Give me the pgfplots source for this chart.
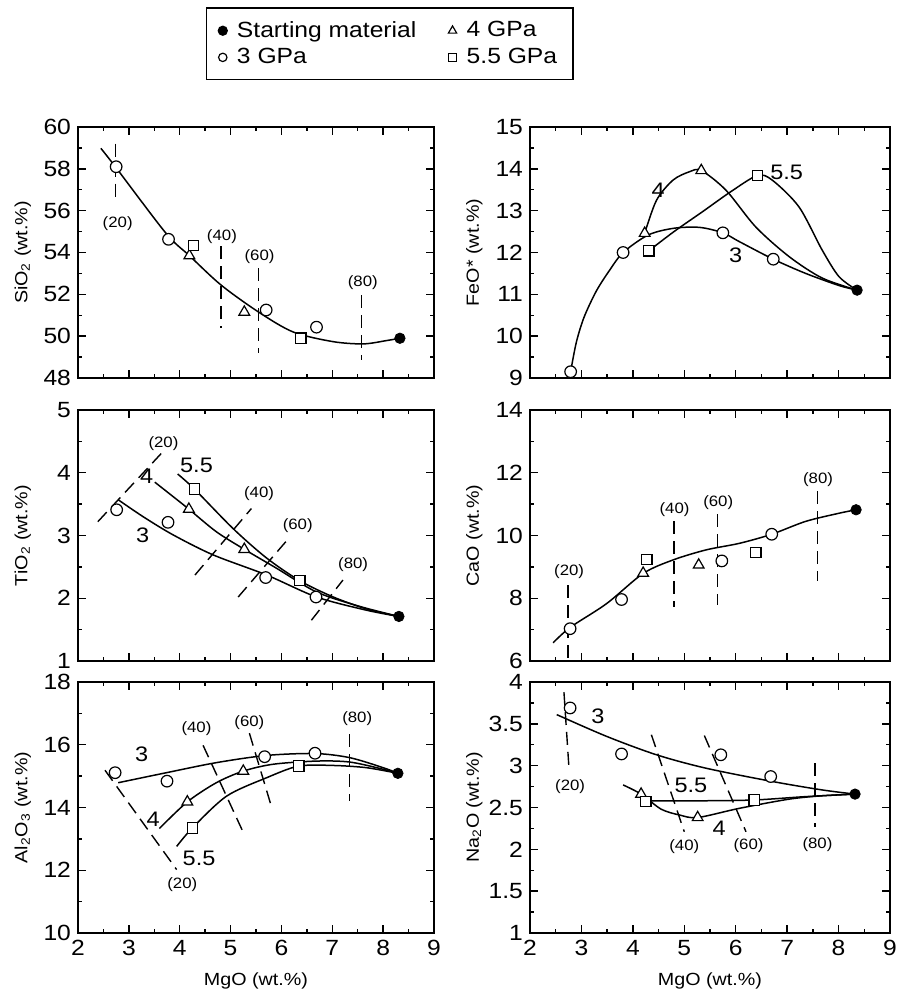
\documentclass[border=0pt]{standalone}
\usepackage{fontspec}
\setmainfont[FakeStretch=1.12]{Liberation Sans}
\usepackage{pgfplots}
\pgfplotsset{compat=1.18}
\pgfplotsset{
  panel/.style={scale only axis, height=125.5pt, xmin=2, xmax=9, xtick={2,...,9},
    minor x tick num=1, minor y tick num=1, tick align=inside,
    major tick length=4pt, minor tick length=2.2pt,
    every tick/.style={black, line width=0.7pt},
    axis line style={line width=0.9pt},
    /pgf/number format/assume math mode=true,
    tick label style={font=\fontsize{11}{12}\selectfont},
    label style={font=\fontsize{8.8}{11}\selectfont},
    ylabel style={at={(axis description cs:-0.155,0.5)}, anchor=center},
    xlabel style={at={(axis description cs:0.5,-0.19)}, anchor=center},
    clip=false},
  lpanel/.style={panel, width=178pt},
  rpanel/.style={panel, width=180pt},
  curve/.style={smooth, black, line width=0.75pt, no markers},
  guide/.style={black, line width=0.7pt, dash pattern=on 6.5pt off 3.5pt, no markers},
  s3/.style={only marks, mark=*, mark size=2.9pt, mark options={fill=white, draw=black, line width=0.6pt, solid}},
  s4/.style={only marks, mark=triangle*, mark size=3.1pt, mark options={fill=white, draw=black, line width=0.6pt, solid}},
  s55/.style={only marks, mark=square*, mark size=2.6pt, mark options={fill=white, draw=black, line width=0.6pt, solid}},
  s0/.style={only marks, mark=*, mark size=2.6pt, mark options={fill=black, draw=black, solid}},
  legmark/.style={only marks, legend image code/.code={\draw[##1] plot coordinates {(0pt,0pt)};}},
}
\tikzset{lab/.style={font=\fontsize{7.5}{9}\selectfont, inner sep=0pt},
  clab/.style={font=\fontsize{10.5}{12}\selectfont, inner sep=0pt}}
\begin{document}
\begin{tikzpicture}
\path[use as bounding box] (0,0) rectangle (448pt,497.5pt);
% SiO2
\begin{axis}[lpanel, at={(39pt,308.5pt)}, anchor=south west, ymin=48, ymax=60, ytick={48,50,...,60},
  xticklabels={}, ylabel={SiO\textsubscript{2} (wt.\%)},
  legend style={at={(axis description cs:0.876,1.331)}, anchor=center, draw=black, line width=0.9pt,
    font=\fontsize{11}{13.5}\selectfont, legend columns=2, legend cell align=left,
    inner xsep=6pt, inner ysep=4.5pt,
    /tikz/every odd column/.append style={column sep=3pt},
    /tikz/every even column/.append style={column sep=14pt}}]
\addlegendimage{legmark, mark=*, mark size=2.1pt, mark options={fill=black}}
\addlegendentry{Starting material}
\addlegendimage{legmark, mark=triangle, mark size=2.4pt, mark options={line width=0.6pt}}
\addlegendentry{4 GPa}
\addlegendimage{legmark, mark=o, mark size=2.1pt, mark options={line width=0.6pt}}
\addlegendentry{3 GPa}
\addlegendimage{legmark, mark=square, mark size=2pt, mark options={line width=0.6pt}}
\addlegendentry{5.5 GPa\hspace{11pt}}
\addplot[guide] coordinates {(2.74,59.2)(2.74,56.4)};
\addplot[guide] coordinates {(4.81,54.3)(4.81,50.4)};
\addplot[guide] coordinates {(5.55,53.25)(5.55,49.2)};
\addplot[guide] coordinates {(7.57,51.95)(7.57,48.85)};
\addplot[curve] coordinates {(2.45,58.98)(2.75,58.05)(3.73,54.92)(4.19,53.85)(4.81,52.45)(5.54,51.17)(6.23,50.2)(7.01,49.74)(7.61,49.63)(8.07,49.79)(8.33,49.9)};
\addplot[s3] coordinates {(2.75,58.1)(3.78,54.63)(5.70,51.25)(6.69,50.43)};
\addplot[s4] coordinates {(4.19,53.85)(5.27,51.15)};
\addplot[s55] coordinates {(4.27,54.33)(6.38,49.9)};
\addplot[s0] coordinates {(8.33,49.9)};
\node[lab] at (axis cs:2.78,55.4) {(20)};
\node[lab] at (axis cs:4.83,54.76) {(40)};
\node[lab] at (axis cs:5.57,53.8) {(60)};
\node[lab] at (axis cs:7.6,52.56) {(80)};
\end{axis}
% FeO
\begin{axis}[rpanel, at={(265pt,308.5pt)}, anchor=south west, ymin=9, ymax=15, ytick={9,...,15},
  xticklabels={}, ylabel={FeO* (wt.\%)}]
\addplot[curve] coordinates {(2.79,9.15)(2.9,9.85)(3.05,10.45)(3.29,11.08)(3.55,11.58)(3.81,12.0)(4.3,12.42)(4.8,12.58)(5.3,12.6)(5.75,12.47)(6.07,12.26)(6.73,11.84)(7.36,11.5)(8.01,11.21)(8.36,11.1)};
\addplot[curve] coordinates {(4.23,12.46)(4.46,13.25)(4.78,13.73)(5.1,13.93)(5.33,13.96)(5.81,13.49)(6.39,12.61)(7.04,11.90)(7.68,11.39)(8.36,11.1)};
\addplot[curve] coordinates {(4.31,12.04)(4.8,12.5)(5.36,12.98)(5.9,13.45)(6.42,13.84)(6.71,13.73)(7.23,13.09)(7.68,12.06)(8.01,11.42)(8.36,11.1)};
\addplot[s3] coordinates {(2.79,9.15)(3.81,12.0)(5.75,12.47)(6.73,11.84)};
\addplot[s4] coordinates {(4.23,12.46)(5.33,13.96)};
\addplot[s55] coordinates {(4.31,12.04)(6.42,13.84)};
\addplot[s0] coordinates {(8.36,11.1)};
\node[clab] at (axis cs:4.49,13.49) {4};
\node[clab] at (axis cs:6.99,13.91) {5.5};
\node[clab] at (axis cs:6.0,11.94) {3};
\end{axis}
% TiO2
\begin{axis}[lpanel, at={(39pt,167pt)}, anchor=south west, ymin=1, ymax=5, ytick={1,...,5},
  xticklabels={}, ylabel={TiO\textsubscript{2} (wt.\%)}]
\addplot[guide] coordinates {(2.39,3.22)(3.64,4.31)};
\addplot[guide] coordinates {(4.30,2.37)(5.41,3.43)};
\addplot[guide] coordinates {(5.15,2.02)(6.17,2.98)};
\addplot[guide] coordinates {(6.59,1.65)(7.21,2.29)};
\addplot[curve] coordinates {(2.79,3.57)(3.28,3.30)(3.87,3.01)(4.66,2.69)(5.71,2.37)(6.69,2.02)(7.67,1.81)(8.31,1.71)};
\addplot[curve] coordinates {(3.51,3.85)(3.87,3.62)(4.18,3.42)(4.72,3.06)(5.27,2.78)(5.90,2.48)(6.69,2.10)(7.54,1.87)(8.31,1.71)};
\addplot[curve] coordinates {(3.96,3.98)(4.29,3.74)(5.05,3.11)(5.71,2.64)(6.36,2.28)(7.02,2.02)(7.67,1.83)(8.31,1.71)};
\addplot[s3] coordinates {(2.76,3.41)(3.77,3.21)(5.69,2.33)(6.68,2.02)};
\addplot[s4] coordinates {(4.18,3.42)(5.27,2.78)};
\addplot[s55] coordinates {(4.29,3.74)(6.36,2.28)};
\addplot[s0] coordinates {(8.31,1.71)};
\node[lab] at (axis cs:3.68,4.46) {(20)};
\node[lab] at (axis cs:5.56,3.67) {(40)};
\node[lab] at (axis cs:6.32,3.15) {(60)};
\node[lab] at (axis cs:7.41,2.53) {(80)};
\node[clab] at (axis cs:3.27,3.01) {3};
\node[clab] at (axis cs:3.35,3.94) {4};
\node[clab] at (axis cs:4.33,4.11) {5.5};
\end{axis}
% CaO
\begin{axis}[rpanel, at={(265pt,167pt)}, anchor=south west, ymin=6, ymax=14, ytick={6,8,...,14},
  xticklabels={}, ylabel={CaO (wt.\%)}]
\addplot[guide] coordinates {(2.74,8.42)(2.74,6.05)};
\addplot[guide] coordinates {(4.80,10.45)(4.80,7.73)};
\addplot[guide] coordinates {(5.65,10.68)(5.65,7.78)};
\addplot[guide] coordinates {(7.59,11.41)(7.59,8.55)};
\addplot[curve] coordinates {(2.45,6.58)(2.78,7.07)(3.49,7.83)(4.20,8.79)(4.78,9.22)(5.42,9.54)(6.07,9.75)(6.70,10.04)(7.36,10.45)(8.01,10.71)(8.34,10.82)};
\addplot[s3] coordinates {(2.78,7.03)(3.78,7.96)(5.73,9.19)(6.70,10.04)};
\addplot[s4] coordinates {(4.20,8.8)(5.28,9.06)};
\addplot[s55] coordinates {(4.27,9.24)(6.39,9.46)};
\addplot[s0] coordinates {(8.34,10.82)};
\node[lab] at (axis cs:2.76,8.85) {(20)};
\node[lab] at (axis cs:4.81,10.82) {(40)};
\node[lab] at (axis cs:5.66,11.06) {(60)};
\node[lab] at (axis cs:7.6,11.78) {(80)};
\end{axis}
% Al2O3
\begin{axis}[lpanel, at={(39pt,31pt)}, anchor=south west, ymin=10, ymax=18, ytick={10,12,...,18},
  xlabel={MgO (wt.\%)}, ylabel={Al\textsubscript{2}O\textsubscript{3} (wt.\%)}]
\addplot[guide] coordinates {(2.53,15.19)(3.94,12.02)};
\addplot[guide] coordinates {(4.46,15.98)(5.24,13.24)};
\addplot[guide] coordinates {(5.37,16.37)(5.82,13.94)};
\addplot[guide] coordinates {(7.34,16.34)(7.34,14.2)};
\addplot[curve] coordinates {(2.79,14.79)(3.74,15.11)(4.72,15.43)(5.71,15.66)(6.66,15.72)(7.34,15.59)(8.0,15.27)(8.29,15.09)};
\addplot[curve] coordinates {(3.60,13.33)(4.15,14.18)(4.72,14.79)(5.25,15.16)(5.84,15.38)(6.69,15.48)(7.34,15.45)(8.0,15.22)(8.29,15.09)};
\addplot[curve] coordinates {(3.94,12.76)(4.25,13.35)(4.92,14.36)(5.71,14.95)(6.34,15.32)(7.02,15.34)(7.67,15.27)(8.29,15.09)};
\addplot[s3] coordinates {(2.73,15.11)(3.75,14.84)(5.67,15.62)(6.66,15.73)};
\addplot[s4] coordinates {(4.15,14.18)(5.25,15.16)};
\addplot[s55] coordinates {(4.25,13.35)(6.34,15.32)};
\addplot[s0] coordinates {(8.29,15.09)};
\node[lab] at (axis cs:4.05,11.54) {(20)};
\node[lab] at (axis cs:4.33,16.5) {(40)};
\node[lab] at (axis cs:5.37,16.71) {(60)};
\node[lab] at (axis cs:7.49,16.82) {(80)};
\node[clab] at (axis cs:3.25,15.7) {3};
\node[clab] at (axis cs:3.48,13.64) {4};
\node[clab] at (axis cs:4.38,12.39) {5.5};
\end{axis}
% Na2O
\begin{axis}[rpanel, at={(265pt,31pt)}, anchor=south west, ymin=1, ymax=4, ytick={1,1.5,...,4},
  xlabel={MgO (wt.\%)}, ylabel={Na\textsubscript{2}O (wt.\%)}]
\addplot[guide] coordinates {(2.66,3.88)(2.76,2.95)};
\addplot[guide] coordinates {(4.36,3.37)(5.0,2.21)};
\addplot[guide] coordinates {(5.39,3.36)(6.20,2.21)};
\addplot[guide] coordinates {(7.54,3.03)(7.54,2.27)};
\addplot[curve] coordinates {(2.52,3.61)(3.49,3.35)(4.46,3.13)(5.42,2.97)(6.72,2.81)(7.68,2.71)(8.32,2.66)};
\addplot[curve] coordinates {(3.81,2.77)(4.16,2.66)(4.55,2.48)(4.91,2.41)(5.26,2.38)(6.07,2.49)(7.04,2.60)(7.68,2.64)(8.32,2.66)};
\addplot[curve] coordinates {(4.25,2.58)(5.3,2.58)(6.36,2.59)(7.36,2.63)(8.32,2.66)};
\addplot[s3] coordinates {(2.78,3.69)(3.78,3.14)(5.71,3.13)(6.68,2.87)};
\addplot[s4] coordinates {(4.16,2.66)(5.26,2.38)};
\addplot[s55] coordinates {(4.25,2.57)(6.36,2.59)};
\addplot[s0] coordinates {(8.32,2.66)};
\node[lab] at (axis cs:2.78,2.75) {(20)};
\node[lab] at (axis cs:5.0,2.03) {(40)};
\node[lab] at (axis cs:6.25,2.04) {(60)};
\node[lab] at (axis cs:7.59,2.06) {(80)};
\node[clab] at (axis cs:3.32,3.59) {3};
\node[clab] at (axis cs:5.13,2.77) {5.5};
\node[clab] at (axis cs:5.68,2.25) {4};
\end{axis}
\end{tikzpicture}
\end{document}
